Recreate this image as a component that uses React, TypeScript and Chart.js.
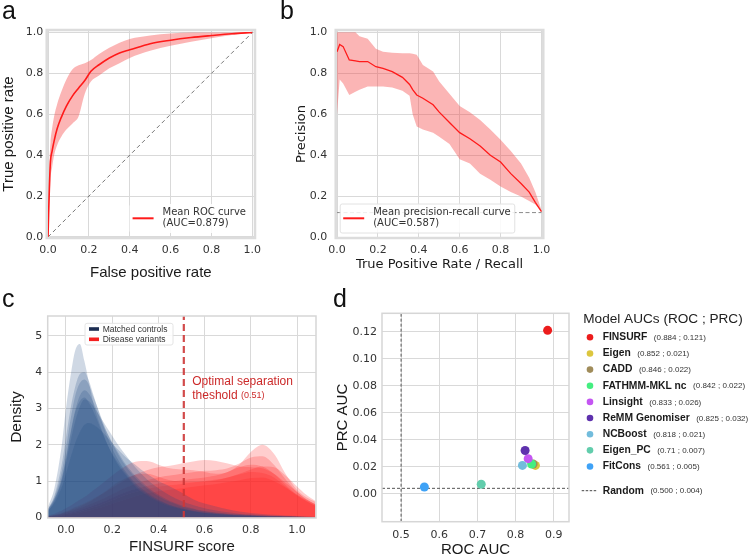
import React, { useEffect, useRef } from 'react';
import { Chart, registerables } from 'chart.js';

Chart.register(...registerables);

const SANS = "'Liberation Sans', Arial, sans-serif";
const DEJAVU = "'DejaVu Sans', sans-serif";

// ---------- Panel a: ROC ----------
const ROC_FPR = [0, 0.004, 0.008, 0.012, 0.02, 0.03, 0.045, 0.065, 0.09, 0.12, 0.15, 0.18, 0.21, 0.25, 0.3, 0.35, 0.4, 0.5, 0.6, 0.7, 0.8, 0.9, 1.0];
const ROC_MEAN = [0, 0.15, 0.28, 0.37, 0.42, 0.47, 0.53, 0.585, 0.64, 0.69, 0.728, 0.765, 0.81, 0.842, 0.875, 0.9, 0.915, 0.945, 0.962, 0.975, 0.985, 0.994, 1.0];
const ROC_UPPER = [0, 0.24, 0.38, 0.46, 0.53, 0.59, 0.65, 0.71, 0.77, 0.82, 0.84, 0.85, 0.865, 0.895, 0.925, 0.95, 0.968, 0.985, 0.995, 1.0, 1.0, 1.0, 1.0];
const ROC_LOWER = [0, 0.09, 0.19, 0.28, 0.34, 0.4, 0.45, 0.49, 0.525, 0.555, 0.59, 0.7, 0.76, 0.79, 0.825, 0.85, 0.875, 0.91, 0.935, 0.955, 0.972, 0.988, 1.0];
const ROC_LEGEND = ['Mean ROC curve', '(AUC=0.879)'];

// ---------- Panel b: precision-recall ----------
const PR_RECALL = [0, 0.013, 0.03, 0.06, 0.09, 0.11, 0.15, 0.19, 0.225, 0.27, 0.32, 0.355, 0.37, 0.39, 0.42, 0.47, 0.5, 0.55, 0.6, 0.65, 0.7, 0.75, 0.8, 0.85, 0.9, 0.94, 0.97, 1.0];
const PR_MEAN = [0.905, 0.94, 0.93, 0.865, 0.86, 0.857, 0.857, 0.832, 0.824, 0.808, 0.78, 0.745, 0.72, 0.694, 0.678, 0.646, 0.61, 0.56, 0.51, 0.48, 0.445, 0.4, 0.367, 0.31, 0.262, 0.22, 0.17, 0.125];
const PR_UPPER = [1.0, 1.0, 1.0, 1.0, 1.0, 0.98, 0.968, 0.92, 0.905, 0.9, 0.898, 0.898, 0.895, 0.89, 0.84, 0.808, 0.76, 0.7, 0.64, 0.61, 0.572, 0.525, 0.475, 0.42, 0.36, 0.29, 0.22, 0.133];
const PR_LOWER = [0.6, 0.77, 0.75, 0.694, 0.71, 0.72, 0.735, 0.735, 0.735, 0.73, 0.715, 0.69, 0.6, 0.54, 0.525, 0.51, 0.49, 0.455, 0.38, 0.36, 0.31, 0.28, 0.247, 0.22, 0.198, 0.176, 0.16, 0.125];
const PR_BASELINE = 0.12;
const PR_LEGEND = ['Mean precision-recall curve', '(AUC=0.587)'];

// ---------- Panel c: score densities ----------
const DENSITY_X = [-0.08, -0.05, -0.02, 0.0, 0.02, 0.04, 0.06, 0.08, 0.1, 0.12, 0.15, 0.18, 0.22, 0.26, 0.3, 0.35, 0.4, 0.45, 0.5, 0.55, 0.6, 0.65, 0.7, 0.75, 0.8, 0.85, 0.9, 0.95, 1.0, 1.04, 1.08];
const CONTROL_1 = [0.25, 0.8, 1.9, 3.0, 3.9, 4.6, 4.78, 4.3, 3.7, 3.1, 2.5, 2.0, 1.5, 1.15, 0.85, 0.6, 0.42, 0.3, 0.22, 0.16, 0.12, 0.09, 0.07, 0.05, 0.04, 0.03, 0.02, 0.015, 0.01, 0.005, 0.003];
const CONTROL_2 = [0.2, 0.6, 1.4, 2.2, 3.0, 3.6, 3.95, 4.0, 3.75, 3.35, 2.75, 2.2, 1.65, 1.25, 0.95, 0.68, 0.48, 0.34, 0.25, 0.18, 0.13, 0.1, 0.07, 0.055, 0.04, 0.03, 0.02, 0.015, 0.01, 0.005, 0.003];
const CONTROL_3 = [0.2, 0.55, 1.2, 1.9, 2.7, 3.35, 3.7, 3.8, 3.65, 3.3, 2.8, 2.3, 1.8, 1.4, 1.1, 0.8, 0.58, 0.42, 0.3, 0.22, 0.16, 0.12, 0.09, 0.07, 0.05, 0.04, 0.03, 0.02, 0.015, 0.01, 0.005];
const CONTROL_4 = [0.18, 0.5, 1.05, 1.65, 2.35, 2.95, 3.35, 3.5, 3.4, 3.15, 2.7, 2.3, 1.85, 1.45, 1.15, 0.85, 0.62, 0.45, 0.33, 0.24, 0.17, 0.13, 0.1, 0.08, 0.06, 0.045, 0.035, 0.025, 0.02, 0.01, 0.005];
const CONTROL_5 = [0.15, 0.45, 0.95, 1.5, 2.1, 2.65, 3.05, 3.25, 3.2, 3.05, 2.75, 2.45, 2.05, 1.7, 1.38, 1.05, 0.8, 0.6, 0.45, 0.34, 0.25, 0.19, 0.14, 0.1, 0.08, 0.06, 0.045, 0.03, 0.02, 0.012, 0.006];
const CONTROL_6 = [0.15, 0.4, 0.8, 1.2, 1.65, 2.05, 2.35, 2.55, 2.6, 2.55, 2.4, 2.2, 1.9, 1.65, 1.45, 1.2, 1.0, 0.85, 0.68, 0.5, 0.38, 0.3, 0.22, 0.16, 0.12, 0.09, 0.07, 0.05, 0.035, 0.02, 0.01];
const CONTROL_7 = [0.2, 0.5, 1.0, 1.6, 2.3, 2.9, 3.2, 3.3, 3.15, 2.9, 2.45, 2.0, 1.55, 1.2, 0.9, 0.65, 0.46, 0.33, 0.24, 0.17, 0.12, 0.09, 0.07, 0.05, 0.04, 0.03, 0.02, 0.015, 0.01, 0.005, 0.003];
const DISEASE_1 = [0.05, 0.1, 0.18, 0.25, 0.32, 0.4, 0.48, 0.56, 0.65, 0.75, 0.9, 1.05, 1.25, 1.42, 1.53, 1.55, 1.45, 1.35, 1.32, 1.3, 1.25, 1.2, 1.25, 1.45, 1.8, 2.0, 1.75, 1.2, 0.75, 0.55, 0.42];
const DISEASE_2 = [0.03, 0.07, 0.12, 0.17, 0.22, 0.28, 0.33, 0.39, 0.45, 0.52, 0.62, 0.74, 0.9, 1.05, 1.18, 1.3, 1.38, 1.42, 1.48, 1.54, 1.58, 1.55, 1.48, 1.4, 1.38, 1.35, 1.2, 0.95, 0.7, 0.5, 0.35];
const DISEASE_3 = [0.02, 0.05, 0.09, 0.13, 0.17, 0.21, 0.25, 0.3, 0.35, 0.4, 0.48, 0.57, 0.7, 0.82, 0.92, 1.02, 1.1, 1.15, 1.2, 1.24, 1.28, 1.3, 1.35, 1.48, 1.65, 1.68, 1.45, 1.05, 0.7, 0.5, 0.35];
const DISEASE_4 = [0.02, 0.04, 0.07, 0.1, 0.13, 0.16, 0.2, 0.24, 0.28, 0.33, 0.4, 0.48, 0.6, 0.7, 0.78, 0.86, 0.93, 0.98, 1.02, 1.06, 1.1, 1.15, 1.25, 1.38, 1.45, 1.4, 1.2, 0.9, 0.62, 0.45, 0.32];
const DISEASE_5 = [0.01, 0.03, 0.05, 0.08, 0.1, 0.13, 0.16, 0.2, 0.24, 0.28, 0.34, 0.42, 0.52, 0.62, 0.7, 0.78, 0.84, 0.88, 0.92, 0.96, 1.0, 1.04, 1.1, 1.18, 1.25, 1.22, 1.1, 0.85, 0.6, 0.45, 0.32];
const DISEASE_6 = [0.01, 0.02, 0.04, 0.06, 0.08, 0.1, 0.12, 0.15, 0.18, 0.22, 0.27, 0.33, 0.42, 0.5, 0.58, 0.66, 0.72, 0.76, 0.8, 0.84, 0.88, 0.92, 0.97, 1.02, 1.08, 1.1, 1.0, 0.82, 0.62, 0.48, 0.36];
const DISEASE_7 = [0.03, 0.06, 0.1, 0.15, 0.2, 0.25, 0.3, 0.36, 0.42, 0.5, 0.62, 0.76, 0.95, 1.08, 1.17, 1.2, 1.12, 1.02, 0.98, 0.97, 0.98, 1.02, 1.1, 1.2, 1.32, 1.4, 1.38, 1.15, 0.85, 0.62, 0.45];
const CONTROLS = [CONTROL_1, CONTROL_2, CONTROL_3, CONTROL_4, CONTROL_5, CONTROL_6, CONTROL_7];
const DISEASES = [DISEASE_1, DISEASE_2, DISEASE_3, DISEASE_4, DISEASE_5, DISEASE_6, DISEASE_7];
const THRESHOLD = 0.51;
const DENSITY_LEGEND = ['Matched controls', 'Disease variants'];

// ---------- Panel d: model AUCs ----------
const MODELS = ['FINSURF', 'Eigen', 'CADD', 'FATHMM-MKL nc', 'Linsight', 'ReMM Genomiser', 'NCBoost', 'Eigen_PC', 'FitCons'];
const ROC_AUCS = [0.884, 0.852, 0.846, 0.842, 0.833, 0.825, 0.818, 0.71, 0.561];
const PRC_AUCS = [0.121, 0.021, 0.022, 0.022, 0.026, 0.032, 0.021, 0.007, 0.005];
const MODEL_COLORS = ['#ec1c1c', '#dcc63e', '#a08c5a', '#44ee80', '#c455f2', '#5e31ad', '#72bcdc', '#62cdac', '#3fa2f6'];
const RANDOM_ROC = 0.5;
const RANDOM_PRC = 0.004;

// ---------- ticks / axis limits ----------
const UNIT_TICKS = [0, 0.2, 0.4, 0.6, 0.8, 1.0];
const DENSITY_TICKS = [0, 1, 2, 3, 4, 5];
const ROC_AUC_TICKS = [0.5, 0.6, 0.7, 0.8, 0.9];
const PRC_AUC_TICKS = [0, 0.02, 0.04, 0.06, 0.08, 0.1, 0.12];
const D_X_LIMITS = [0.45, 0.94];
const D_Y_LIMITS = [-0.0207, 0.1336];
const C_X_LIMITS = [-0.079, 1.082];
const C_Y_LIMITS = [-0.02, 5.55];

const pts = (xs: number[], ys: number[]) => xs.map((x, i) => ({ x, y: ys[i] }));

function linAxis(cfg: any) {
  return {
    type: 'linear',
    min: cfg.min,
    max: cfg.max,
    afterBuildTicks: (s: any) => {
      s.ticks = cfg.ticks.map((v: number) => ({ value: v }));
    },
    afterFit: (s: any) => {
      if (cfg.horizontal) s.height = cfg.size;
      else s.width = cfg.size;
      s.paddingLeft = 0;
      s.paddingRight = 0;
      s.paddingTop = 0;
      s.paddingBottom = 0;
    },
    ticks: {
      callback: (v: any) => Number(v).toFixed(cfg.digits),
      font: { family: DEJAVU, size: 11 },
      color: '#333',
      padding: cfg.pad,
      autoSkip: false,
      maxRotation: 0,
      minRotation: 0,
    },
    grid: { color: '#d9d9d9', lineWidth: 1, drawTicks: false },
    border: { display: false },
    title: { display: true, text: cfg.title, font: cfg.titleFont, color: '#1a1a1a', padding: cfg.titlePad },
  };
}

const framePlugin = (color: string, width: number) => ({
  id: 'frame',
  afterDatasetsDraw(chart: any) {
    const { ctx, chartArea: a } = chart;
    ctx.save();
    ctx.strokeStyle = color;
    ctx.lineWidth = width;
    ctx.strokeRect(a.left, a.top, a.right - a.left, a.bottom - a.top);
    ctx.restore();
  },
});

function lineLegend(anchor: string, lines: string[], color: string) {
  return {
    id: 'lineLegend',
    afterDraw(chart: any) {
      const { ctx, chartArea: a } = chart;
      ctx.save();
      ctx.font = `10px ${DEJAVU}`;
      const tw = Math.max(...lines.map((l) => ctx.measureText(l).width));
      const w = 33 + tw + 4;
      const h = 29;
      const x = anchor === 'left' ? a.left + 4.5 : a.right - 5 - w;
      const y = a.bottom - 5 - h;
      ctx.fillStyle = 'rgba(255,255,255,0.85)';
      ctx.strokeStyle = anchor === 'left' ? '#e2e2e2' : 'rgba(0,0,0,0)';
      ctx.lineWidth = 1;
      ctx.beginPath();
      ctx.roundRect(x, y, w, h, 2);
      ctx.fill();
      ctx.stroke();
      ctx.strokeStyle = color;
      ctx.lineWidth = 2;
      ctx.beginPath();
      ctx.moveTo(x + 3, y + 14.3);
      ctx.lineTo(x + 24, y + 14.3);
      ctx.stroke();
      ctx.fillStyle = '#333';
      ctx.textBaseline = 'middle';
      ctx.textAlign = 'left';
      ctx.fillText(lines[0], x + 33, y + 8.5);
      ctx.fillText(lines[1], x + 33, y + 19);
      ctx.restore();
    },
  };
}

const baseOptions = (padding: any) => ({
  responsive: false,
  animation: false,
  devicePixelRatio: 1,
  events: [],
  layout: { padding },
  plugins: { legend: { display: false }, tooltip: { enabled: false } },
});

function makeRoc() {
  return {
    type: 'line',
    data: {
      datasets: [
        { data: pts(ROC_FPR, ROC_MEAN), borderColor: '#ff1a1a', borderWidth: 1.6, pointRadius: 0, fill: false, cubicInterpolationMode: 'monotone', order: 0 },
        { data: pts(ROC_FPR, ROC_UPPER), borderColor: 'transparent', borderWidth: 0, pointRadius: 0, fill: '+1', backgroundColor: 'rgba(245,70,70,0.4)', cubicInterpolationMode: 'monotone', order: 1 },
        { data: pts(ROC_FPR, ROC_LOWER), borderColor: 'transparent', borderWidth: 0, pointRadius: 0, fill: false, cubicInterpolationMode: 'monotone', order: 1 },
        { data: [{ x: 0, y: 0 }, { x: 1, y: 1 }], borderColor: '#777', borderDash: [4, 3], borderWidth: 1, pointRadius: 0, fill: false, order: 2 },
      ],
    },
    options: {
      ...baseOptions({ top: 30, right: 7, left: 0, bottom: 0 }),
      scales: {
        x: linAxis({ min: -0.0064, max: 1.013, ticks: UNIT_TICKS, digits: 1, size: 52, horizontal: true, pad: 5.4, title: 'False positive rate', titleFont: { family: SANS, size: 15 }, titlePad: { bottom: 8 } }),
        y: linAxis({ min: -0.005, max: 1.012, ticks: UNIT_TICKS, digits: 1, size: 46.7, horizontal: false, pad: 3.4, title: 'True positive rate', titleFont: { family: SANS, size: 15 }, titlePad: { top: 0 } }),
      },
    },
    plugins: [framePlugin('#dcdcdc', 2.5), lineLegend('right', ROC_LEGEND, '#ff1a1a')],
  };
}

function makePr() {
  return {
    type: 'line',
    data: {
      datasets: [
        { data: pts(PR_RECALL, PR_MEAN), borderColor: '#ff1a1a', borderWidth: 1.3, pointRadius: 0, fill: false, tension: 0, order: 0 },
        { data: pts(PR_RECALL, PR_UPPER), borderColor: 'transparent', borderWidth: 0, pointRadius: 0, fill: '+1', backgroundColor: 'rgba(245,70,70,0.4)', order: 1 },
        { data: pts(PR_RECALL, PR_LOWER), borderColor: 'transparent', borderWidth: 0, pointRadius: 0, fill: false, order: 1 },
        { data: [{ x: 0, y: PR_BASELINE }, { x: 1, y: PR_BASELINE }], borderColor: '#8a8a8a', borderDash: [4, 2.5], borderWidth: 1, pointRadius: 0, fill: false, order: 2 },
      ],
    },
    options: {
      ...baseOptions({ top: 30, right: 18.7, left: 0, bottom: 0 }),
      scales: {
        x: linAxis({ min: -0.0064, max: 1.009, ticks: UNIT_TICKS, digits: 1, size: 52, horizontal: true, pad: 5.4, title: 'True Positive Rate / Recall', titleFont: { family: DEJAVU, size: 13 }, titlePad: { bottom: 17.2 } }),
        y: linAxis({ min: -0.004, max: 1.011, ticks: UNIT_TICKS, digits: 1, size: 73.7, horizontal: false, pad: 8.4, title: 'Precision', titleFont: { family: DEJAVU, size: 13 }, titlePad: { top: 32.2 } }),
      },
    },
    plugins: [framePlugin('#dcdcdc', 2.5), lineLegend('left', PR_LEGEND, '#ff1a1a')],
  };
}

const densityAnnotation = {
  id: 'densityAnnotation',
  afterDraw(chart: any) {
    const { ctx, chartArea: a, scales } = chart;
    ctx.save();
    const tx = scales.x.getPixelForValue(THRESHOLD) + 8.4;
    ctx.fillStyle = '#cc2a2a';
    ctx.textBaseline = 'middle';
    ctx.textAlign = 'left';
    ctx.font = `12px ${SANS}`;
    ctx.fillText('Optimal separation', tx, a.top + 66);
    ctx.fillText('theshold', tx, a.top + 79.5);
    const w = ctx.measureText('theshold ').width;
    ctx.font = `9px ${SANS}`;
    ctx.fillText(`(${THRESHOLD})`, tx + w, a.top + 80);
    const bx = a.left + 37.3;
    const by = a.top + 7.3;
    ctx.fillStyle = 'rgba(255,255,255,0.85)';
    ctx.strokeStyle = '#e4e4e4';
    ctx.lineWidth = 1;
    ctx.beginPath();
    ctx.roundRect(bx, by, 88, 21.7, 2);
    ctx.fill();
    ctx.stroke();
    const patch = ['#1c2d52', '#f42020'];
    DENSITY_LEGEND.forEach((t, i) => {
      const y = by + 5.7 + i * 10.3;
      ctx.fillStyle = patch[i];
      ctx.fillRect(bx + 4, y - 1.8, 10, 3.6);
      ctx.fillStyle = '#333';
      ctx.font = `8.5px ${SANS}`;
      ctx.fillText(t, bx + 17.7, y + 0.3);
    });
    ctx.restore();
  },
};

function makeDensity() {
  const controls = CONTROLS.map((c) => ({
    data: pts(DENSITY_X, c), borderColor: 'transparent', borderWidth: 0, pointRadius: 0,
    fill: 'origin', backgroundColor: 'rgba(30,72,128,0.21)', cubicInterpolationMode: 'monotone', order: 1,
  }));
  const diseases = DISEASES.map((d) => ({
    data: pts(DENSITY_X, d), borderColor: 'transparent', borderWidth: 0, pointRadius: 0,
    fill: 'origin', backgroundColor: 'rgba(255,30,30,0.22)', cubicInterpolationMode: 'monotone', order: 2,
  }));
  const threshold = {
    data: [{ x: THRESHOLD, y: C_Y_LIMITS[0] }, { x: THRESHOLD, y: C_Y_LIMITS[1] }], borderColor: 'rgba(205,55,55,0.9)',
    borderDash: [7, 4], borderWidth: 2.2, pointRadius: 0, fill: false, order: 0,
  };
  return {
    type: 'line',
    data: { datasets: [threshold, ...controls, ...diseases] },
    options: {
      ...baseOptions({ top: 26, right: 14, left: 0, bottom: 0 }),
      scales: {
        x: linAxis({ min: C_X_LIMITS[0], max: C_X_LIMITS[1], ticks: UNIT_TICKS, digits: 1, size: 41, horizontal: true, pad: 5.4, title: 'FINSURF score', titleFont: { family: SANS, size: 15 }, titlePad: { bottom: 3.3 } }),
        y: linAxis({ min: C_Y_LIMITS[0], max: C_Y_LIMITS[1], ticks: DENSITY_TICKS, digits: 0, size: 47.7, horizontal: false, pad: 5.4, title: 'Density', titleFont: { family: SANS, size: 15.5 }, titlePad: { top: 7.4 } }),
      },
    },
    plugins: [framePlugin('#d6d6d6', 1.5), densityAnnotation],
  };
}

const aucLegend = {
  id: 'aucLegend',
  afterDraw(chart: any) {
    const { ctx, chartArea: a } = chart;
    const x0 = a.right;
    ctx.save();
    ctx.textBaseline = 'middle';
    ctx.textAlign = 'left';
    ctx.fillStyle = '#222';
    ctx.font = `13.6px ${SANS}`;
    ctx.fillText('Model AUCs (ROC ; PRC)', x0 + 14.3, a.top + 6);
    const row = (y: number, name: string, vals: string) => {
      ctx.fillStyle = '#1a1a1a';
      ctx.font = `bold 10.3px ${SANS}`;
      ctx.fillText(name, x0 + 33.7, y);
      const w = ctx.measureText(name).width;
      ctx.fillStyle = '#333';
      ctx.font = `8px ${SANS}`;
      ctx.fillText(vals, x0 + 33.7 + w + 6.5, y + 0.5);
    };
    MODELS.forEach((name, i) => {
      const y = a.top + 24 + i * 16.15;
      ctx.fillStyle = MODEL_COLORS[i];
      ctx.beginPath();
      ctx.arc(x0 + 21, y, 3.3, 0, Math.PI * 2);
      ctx.fill();
      row(y, name, `(${ROC_AUCS[i]} ; ${PRC_AUCS[i]})`);
    });
    const ry = a.top + 177.4;
    ctx.strokeStyle = '#444';
    ctx.lineWidth = 1;
    ctx.setLineDash([2.5, 1.5]);
    ctx.beginPath();
    ctx.moveTo(x0 + 12.7, ry);
    ctx.lineTo(x0 + 27.7, ry);
    ctx.stroke();
    ctx.setLineDash([]);
    row(ry, 'Random', `(${RANDOM_ROC.toFixed(3)} ; ${RANDOM_PRC.toFixed(3)})`);
    ctx.restore();
  },
};

function makeAuc() {
  return {
    type: 'line',
    data: {
      datasets: [
        {
          data: pts(ROC_AUCS, PRC_AUCS), showLine: false, pointRadius: 4.5, pointBorderWidth: 0,
          pointBackgroundColor: MODEL_COLORS, pointBorderColor: MODEL_COLORS, order: 0,
        },
        { data: [{ x: RANDOM_ROC, y: D_Y_LIMITS[0] }, { x: RANDOM_ROC, y: D_Y_LIMITS[1] }], borderColor: '#555', borderDash: [3, 2], borderWidth: 1, pointRadius: 0, fill: false, order: 1 },
        { data: [{ x: D_X_LIMITS[0], y: RANDOM_PRC }, { x: D_X_LIMITS[1], y: RANDOM_PRC }], borderColor: '#555', borderDash: [3, 2], borderWidth: 1, pointRadius: 0, fill: false, order: 1 },
      ],
    },
    options: {
      ...baseOptions({ top: 23.3, right: 180, left: 0, bottom: 0 }),
      scales: {
        x: linAxis({ min: D_X_LIMITS[0], max: D_X_LIMITS[1], ticks: ROC_AUC_TICKS, digits: 1, size: 37.3, horizontal: true, pad: 6.7, title: 'ROC AUC', titleFont: { family: SANS, size: 15 }, titlePad: { bottom: 0 } }),
        y: linAxis({ min: D_Y_LIMITS[0], max: D_Y_LIMITS[1], ticks: PRC_AUC_TICKS, digits: 2, size: 48, horizontal: false, pad: 5, title: 'PRC AUC', titleFont: { family: SANS, size: 15 }, titlePad: { top: 0 } }),
      },
    },
    plugins: [framePlugin('#d6d6d6', 1.5), aucLegend],
  };
}

function ChartCanvas({ left, top, width, height, make }: any) {
  const ref = useRef<HTMLCanvasElement>(null);
  useEffect(() => {
    const chart = new Chart(ref.current as any, make() as any);
    return () => chart.destroy();
  }, []);
  return <canvas ref={ref} width={width} height={height} style={{ position: 'absolute', left, top, width, height }} />;
}

function PanelLabel({ text, left, top }: any) {
  return (
    <div style={{ position: 'absolute', left, top, fontFamily: SANS, fontSize: 25, lineHeight: '25px', color: '#111' }}>{text}</div>
  );
}

export default function App() {
  return (
    <div style={{ position: 'absolute', left: 0, top: 0, width: 749, height: 559, background: '#fff', overflow: 'hidden' }}>
      <ChartCanvas left={0} top={0} width={262} height={290} make={makeRoc} />
      <ChartCanvas left={262} top={0} width={300} height={290} make={makePr} />
      <ChartCanvas left={0} top={290} width={330} height={269} make={makeDensity} />
      <ChartCanvas left={334} top={290} width={415} height={269} make={makeAuc} />
      <PanelLabel text="a" left={2} top={-2} />
      <PanelLabel text="b" left={280} top={-2} />
      <PanelLabel text="c" left={2} top={286} />
      <PanelLabel text="d" left={333} top={286} />
    </div>
  );
}
